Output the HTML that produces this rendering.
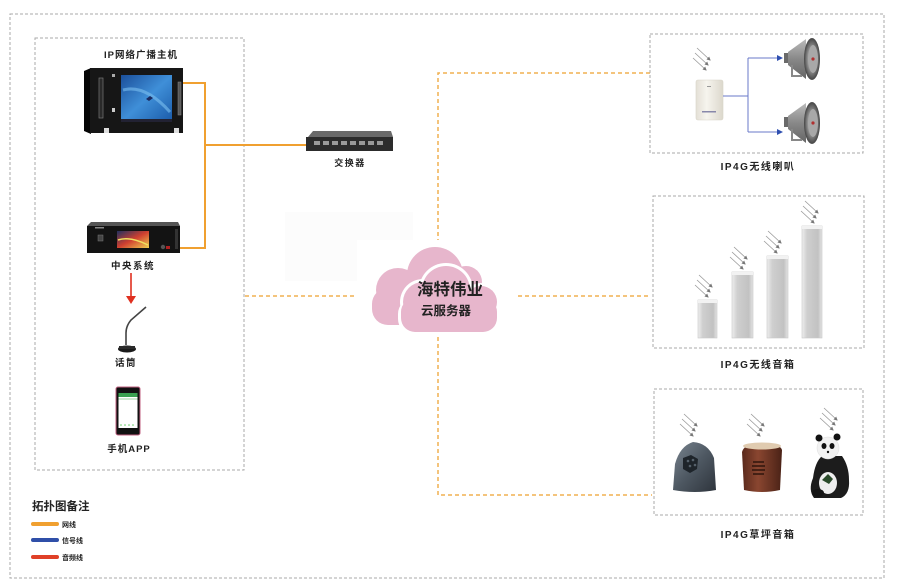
<!DOCTYPE html>
<html><head><meta charset="utf-8"><style>
html,body{margin:0;padding:0;background:#fff;}
svg{display:block;}
text{font-family:"Liberation Sans","Noto Sans CJK SC",sans-serif;font-weight:bold;fill:#222;}
</style></head><body>
<svg width="900" height="588" viewBox="0 0 900 588" xmlns="http://www.w3.org/2000/svg">
<defs>
<linearGradient id="scr" x1="0" y1="0" x2="1" y2="1"><stop offset="0" stop-color="#1b4f9a"/><stop offset="0.5" stop-color="#3f8fd8"/><stop offset="1" stop-color="#1a5aa8"/></linearGradient>
<linearGradient id="cs" x1="0" y1="0" x2="1" y2="1"><stop offset="0" stop-color="#203060"/><stop offset="0.5" stop-color="#d04030"/><stop offset="1" stop-color="#f0d050"/></linearGradient>
<linearGradient id="col" x1="0" y1="0" x2="1" y2="0"><stop offset="0" stop-color="#eeeeee"/><stop offset="0.25" stop-color="#cfcfcf"/><stop offset="0.8" stop-color="#c2c2c2"/><stop offset="1" stop-color="#e4e4e4"/></linearGradient>
<linearGradient id="box4g" x1="0" y1="0" x2="1" y2="0"><stop offset="0" stop-color="#e4e0d6"/><stop offset="0.4" stop-color="#f6f4ee"/><stop offset="1" stop-color="#dcd8cc"/></linearGradient>
<radialGradient id="horn" cx="0.5" cy="0.5" r="0.5"><stop offset="0" stop-color="#c8c8c8"/><stop offset="0.6" stop-color="#8a8a8a"/><stop offset="1" stop-color="#444"/></radialGradient>
<linearGradient id="hornb" x1="0" y1="0" x2="0" y2="1"><stop offset="0" stop-color="#bbb"/><stop offset="0.5" stop-color="#888"/><stop offset="1" stop-color="#666"/></linearGradient>
<linearGradient id="rock" x1="0" y1="0" x2="1" y2="1"><stop offset="0" stop-color="#7a8590"/><stop offset="0.5" stop-color="#4e5862"/><stop offset="1" stop-color="#2e343c"/></linearGradient>
<linearGradient id="stump" x1="0" y1="0" x2="1" y2="0"><stop offset="0" stop-color="#5a2a1c"/><stop offset="0.4" stop-color="#8a4630"/><stop offset="1" stop-color="#4a2216"/></linearGradient>
<marker id="ab" markerWidth="6" markerHeight="6" refX="5" refY="3" orient="auto" markerUnits="userSpaceOnUse"><path d="M0,0 L6,3 L0,6 z" fill="#2f4fb0"/></marker>
<marker id="ag" markerWidth="4" markerHeight="4" refX="3" refY="2" orient="auto" markerUnits="userSpaceOnUse"><path d="M0,0 L4,2 L0,4 z" fill="#777"/></marker>
<g id="sig" stroke="#999" stroke-width="0.8" fill="none">
<line x1="0" y1="0" x2="13" y2="12" marker-end="url(#ag)"/>
<line x1="-2" y1="5" x2="11" y2="17" marker-end="url(#ag)"/>
<line x1="-4" y1="10" x2="9" y2="22" marker-end="url(#ag)"/>
</g>
<g id="hornS">
<rect x="-28" y="-6" width="6" height="10" fill="#6a6a6a"/>
<polygon points="-24,-7 -6,-20 -6,20 -24,6" fill="url(#hornb)"/>
<path d="M-20,6 L-20,17 L-10,17" stroke="#888" stroke-width="2" fill="none"/>
<ellipse cx="0" cy="0" rx="8" ry="21" fill="url(#horn)"/>
<ellipse cx="1" cy="0" rx="5" ry="14" fill="#a8a8a8"/>
<circle cx="1" cy="0" r="1.6" fill="#b03030"/>
</g>
</defs>

<!-- outer dashed box -->
<rect x="10" y="14" width="874" height="564" fill="none" stroke="#aaa" stroke-width="1" stroke-dasharray="3,2"/>
<!-- left inner box -->
<rect x="35" y="38" width="209" height="432" fill="none" stroke="#aaa" stroke-width="1" stroke-dasharray="3,2"/>

<!-- faint white block -->
<path d="M285,212 H413 V240 H357 V281 H285 Z" fill="#fcfcfc"/>

<!-- orange solid network lines -->
<g stroke="#f0a030" stroke-width="2" fill="none">
<polyline points="181,83 205,83 205,248 180,248"/>
<line x1="205" y1="145" x2="308" y2="145"/>
</g>

<!-- orange dashed lines -->
<g stroke="#f0b050" stroke-width="1.5" fill="none" stroke-dasharray="4,3">
<line x1="245" y1="296" x2="357" y2="296"/>
<polyline points="650,73 438,73 438,240"/>
<polyline points="438,337 438,495 652,495"/>
<line x1="518" y1="296" x2="651" y2="296"/>
</g>

<!-- IP broadcast host -->
<text x="141" y="58" font-size="9.5" text-anchor="middle" letter-spacing="1">IP网络广播主机</text>
<polygon points="84,71 91,68 91,134 84,131" fill="#050505"/>
<rect x="90" y="68" width="93" height="65" fill="#161616"/>
<rect x="99" y="78" width="4" height="40" fill="#2a2a2a" stroke="#777" stroke-width="0.7"/>
<rect x="112" y="74" width="3" height="3" fill="#aaa"/>
<rect x="112" y="108" width="3" height="4" fill="#ccc"/>
<rect x="121" y="75" width="51" height="47" fill="url(#scr)"/>
<path d="M123,90 Q145,84 170,112" stroke="#7cc0f0" stroke-width="3" fill="none" opacity="0.6"/>
<path d="M146,99 l4,-3 l3,2 l-4,3 z" fill="#1a2a60"/>
<rect x="121" y="119" width="51" height="3" fill="#223"/>
<rect x="178" y="82" width="3" height="33" fill="#555" stroke="#888" stroke-width="0.5"/>
<rect x="104" y="128" width="5" height="5" fill="#ddd"/>
<rect x="174" y="128" width="5" height="5" fill="#ddd"/>

<!-- central system -->
<polygon points="91,222 178,222 180,226 87,226" fill="#555"/>
<rect x="87" y="226" width="93" height="27" fill="#131313"/>
<rect x="95" y="227" width="9" height="1.5" fill="#888"/>
<rect x="98" y="235" width="5" height="6" fill="#444" stroke="#777" stroke-width="0.5"/>
<rect x="117" y="231" width="32" height="17" fill="url(#cs)"/>
<path d="M118,240 Q130,236 148,245" stroke="#f0e060" stroke-width="1.5" fill="none"/>
<circle cx="163" cy="247" r="2.2" fill="#555"/>
<rect x="166" y="246" width="4" height="3" fill="#b02020"/>
<rect x="175" y="229" width="3" height="20" fill="#333"/>
<text x="133" y="269" font-size="9.5" text-anchor="middle" letter-spacing="1.5">中央系统</text>

<!-- red arrow -->
<line x1="131" y1="273" x2="131" y2="297" stroke="#e03020" stroke-width="1.6"/>
<path d="M126,296 L131,304 L136,296 z" fill="#e03020"/>

<!-- mic -->
<path d="M126,345 L126,333 Q126,326 131,320 L146,307" stroke="#444" stroke-width="1.6" fill="none"/>
<ellipse cx="127" cy="349" rx="9" ry="3.5" fill="#1a1a1a"/>
<rect x="119" y="346" width="16" height="3" fill="#2a2a2a"/>
<text x="126" y="366" font-size="9.5" text-anchor="middle" letter-spacing="1.5">话筒</text>

<!-- phone -->
<rect x="116" y="387" width="24" height="48" rx="2" fill="#111" stroke="#c06080" stroke-width="1"/>
<rect x="118.5" y="393" width="19" height="35" fill="#fff"/>
<rect x="118.5" y="393" width="19" height="4" fill="#3aa050"/>
<rect x="118.5" y="398" width="19" height="2" fill="#cfe8d0"/>
<g fill="#6c6"><circle cx="121" cy="425" r="0.8"/><circle cx="125" cy="425" r="0.8"/><circle cx="129" cy="425" r="0.8"/><circle cx="133" cy="425" r="0.8"/></g>
<text x="129" y="452" font-size="9.5" text-anchor="middle" letter-spacing="1">手机APP</text>

<!-- legend -->
<text x="32" y="510" font-size="11.5" fill="#222">拓扑图备注</text>
<line x1="33" y1="524" x2="57" y2="524" stroke="#f0a030" stroke-width="4" stroke-linecap="round"/>
<line x1="33" y1="540" x2="57" y2="540" stroke="#2f4fa8" stroke-width="4" stroke-linecap="round"/>
<line x1="33" y1="557" x2="57" y2="557" stroke="#e04028" stroke-width="4" stroke-linecap="round"/>
<text x="62" y="527" font-size="7">网线</text>
<text x="62" y="543" font-size="7">信号线</text>
<text x="62" y="560" font-size="7">音频线</text>

<!-- switch -->
<polygon points="308,137 313,131 391,131 393,137" fill="#6a6a6a"/>
<rect x="306" y="137" width="87" height="14" fill="#2c2c2c"/>
<g fill="#9a9a9a">
<rect x="314" y="141" width="6" height="4"/><rect x="323" y="141" width="6" height="4"/><rect x="332" y="141" width="6" height="4"/><rect x="341" y="141" width="6" height="4"/>
<rect x="350" y="141" width="6" height="4"/><rect x="359" y="141" width="6" height="4"/><rect x="368" y="141" width="6" height="4"/><rect x="377" y="141" width="6" height="4"/>
</g>
<text x="350" y="166" font-size="9" text-anchor="middle" letter-spacing="1.5">交换器</text>

<!-- cloud -->
<g fill="#e7b6cc">
<circle cx="398" cy="290" r="22"/>
<circle cx="435" cy="275" r="28"/>
<circle cx="466" cy="282" r="16"/>
<rect x="372" y="288" width="100" height="37" rx="16"/>
</g>
<g fill="#fff">
<circle cx="423" cy="302" r="23"/>
<circle cx="446" cy="290" r="27"/>
<circle cx="481" cy="302" r="19"/>
<rect x="398" y="298" width="102" height="37" rx="16"/>
</g>
<g fill="#e7b6cc">
<circle cx="423" cy="302" r="20"/>
<circle cx="446" cy="290" r="24"/>
<circle cx="481" cy="302" r="16"/>
<rect x="401" y="298" width="96" height="34" rx="14"/>
</g>
<text x="450" y="295" font-size="16.5" text-anchor="middle" fill="#1a1a1a">海特伟业</text>
<text x="446" y="315" font-size="12.5" text-anchor="middle" fill="#333">云服务器</text>

<!-- right box 1 -->
<rect x="650" y="34" width="213" height="119" fill="none" stroke="#aaa" stroke-width="1" stroke-dasharray="3,2"/>
<use href="#sig" x="697" y="48"/>
<rect x="696" y="80" width="27" height="40" rx="2" fill="url(#box4g)" stroke="#d8d4c8" stroke-width="0.6"/>
<rect x="707" y="86" width="4" height="1" fill="#999"/>
<rect x="702" y="111" width="14" height="1.5" fill="#88a"/>
<g stroke="#6a78c8" stroke-width="1" fill="none">
<line x1="723" y1="96" x2="748" y2="96"/>
<line x1="748" y1="58" x2="748" y2="132"/>
<line x1="748" y1="58" x2="782" y2="58" marker-end="url(#ab)"/>
<line x1="748" y1="132" x2="782" y2="132" marker-end="url(#ab)"/>
</g>
<use href="#hornS" x="812" y="59"/>
<use href="#hornS" x="812" y="123"/>
<text x="758" y="170" font-size="10" text-anchor="middle" letter-spacing="1.5">IP4G无线喇叭</text>

<!-- right box 2 -->
<rect x="653" y="196" width="211" height="152" fill="none" stroke="#aaa" stroke-width="1" stroke-dasharray="3,2"/>
<use href="#sig" x="699" y="275"/>
<use href="#sig" x="734" y="247"/>
<use href="#sig" x="768" y="231"/>
<use href="#sig" x="805" y="201"/>
<rect x="698" y="300" width="19" height="38" fill="url(#col)" stroke="#c8c8c8" stroke-width="0.6"/>
<rect x="732" y="272" width="21" height="66" fill="url(#col)" stroke="#c8c8c8" stroke-width="0.6"/>
<rect x="767" y="256" width="21" height="82" fill="url(#col)" stroke="#c8c8c8" stroke-width="0.6"/>
<rect x="802" y="226" width="20" height="112" fill="url(#col)" stroke="#c8c8c8" stroke-width="0.6"/>
<g fill="#f2f2f2"><rect x="698" y="300" width="19" height="3"/><rect x="732" y="272" width="21" height="3"/><rect x="767" y="256" width="21" height="3"/><rect x="802" y="226" width="20" height="3"/></g>
<text x="758" y="368" font-size="10" text-anchor="middle" letter-spacing="1.5">IP4G无线音箱</text>

<!-- right box 3 -->
<rect x="654" y="389" width="209" height="126" fill="none" stroke="#aaa" stroke-width="1" stroke-dasharray="3,2"/>
<use href="#sig" x="684" y="414"/>
<use href="#sig" x="751" y="414"/>
<use href="#sig" x="824" y="408"/>
<!-- rock -->
<path d="M673,490 L675,464 Q680,446 693,442 Q708,443 714,458 L716,490 Q695,494 673,490 Z" fill="url(#rock)"/>
<path d="M683,458 l8,-3 l7,4 l-1,10 l-7,4 l-7,-4 z" fill="#1e242a"/>
<g fill="#55606a"><circle cx="688" cy="461" r="1.3"/><circle cx="693" cy="460" r="1.3"/><circle cx="690" cy="466" r="1.3"/><circle cx="695" cy="465" r="1.3"/></g>
<!-- stump -->
<path d="M742,452 Q744,444 760,443 Q780,443 782,450 L780,490 Q762,494 744,490 Z" fill="url(#stump)"/>
<ellipse cx="762" cy="446" rx="19" ry="3.5" fill="#e0cbb0"/>
<g stroke="#2a120a" stroke-width="1.4"><line x1="753" y1="462" x2="764" y2="462"/><line x1="752" y1="466" x2="765" y2="466"/><line x1="752" y1="470" x2="765" y2="470"/><line x1="753" y1="474" x2="764" y2="474"/></g>
<!-- panda -->
<path d="M814,498 Q808,490 813,478 Q815,462 822,456 L842,456 Q849,466 849,480 Q850,494 841,498 Z" fill="#1c1c1c"/>
<ellipse cx="828" cy="483" rx="9" ry="11" fill="#eeeeee"/>
<circle cx="828" cy="448" r="11" fill="#f2f2f2" stroke="#ddd" stroke-width="0.5"/>
<circle cx="819" cy="438" r="3.5" fill="#111"/>
<circle cx="837" cy="437" r="3.5" fill="#111"/>
<ellipse cx="824" cy="446" rx="2.5" ry="3" fill="#111"/>
<ellipse cx="832" cy="446" rx="2.5" ry="3" fill="#111"/>
<circle cx="828" cy="452" r="1.2" fill="#111"/>
<path d="M822,480 l6,-6 l5,5 l-4,5 z" fill="#2a4a2a"/>
<ellipse cx="818" cy="493" rx="6" ry="4" fill="#151515"/>
<text x="758" y="538" font-size="10" text-anchor="middle" letter-spacing="1.5">IP4G草坪音箱</text>
</svg>
</body></html>
